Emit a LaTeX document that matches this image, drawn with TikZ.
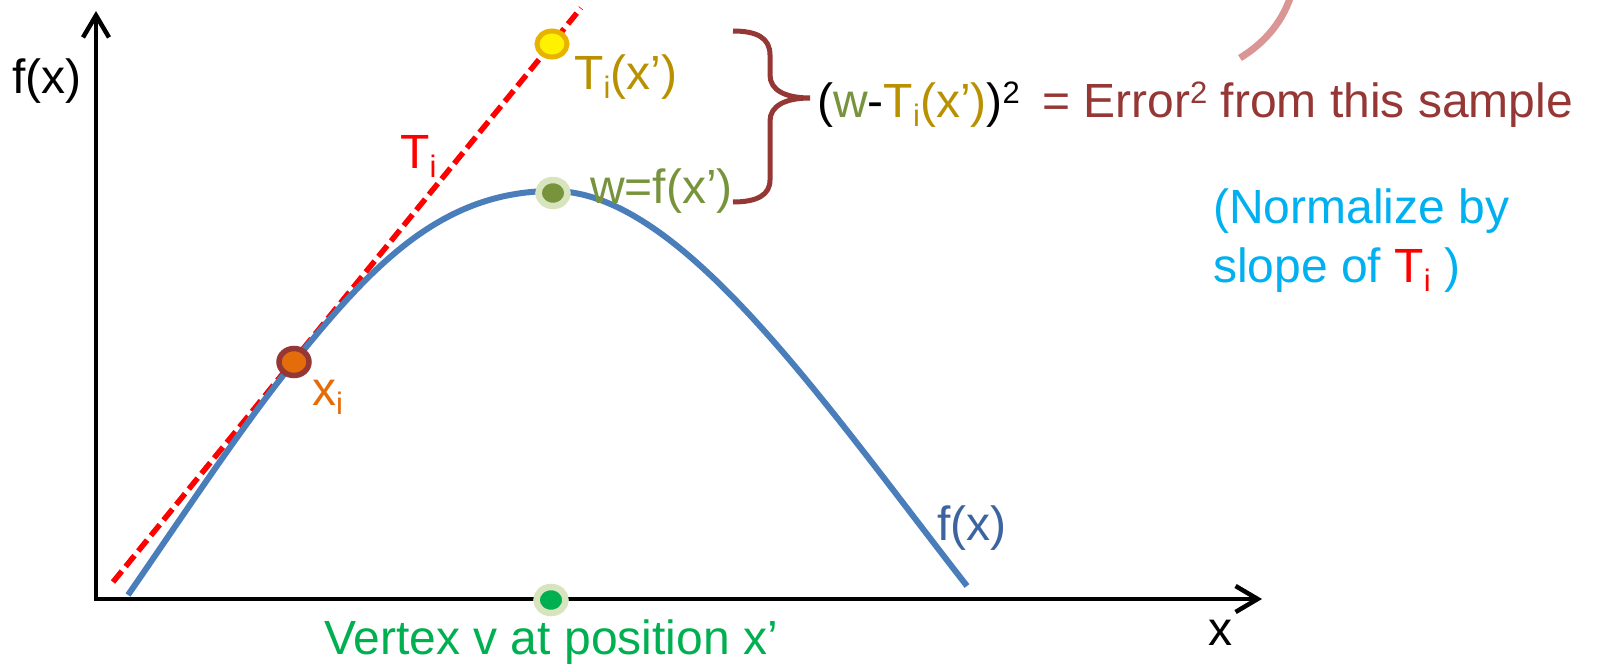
\documentclass[tikz,border=0pt]{standalone}
\usepackage{fontspec}
\setmainfont{Liberation Sans}
\usetikzlibrary{arrows.meta,shapes.geometric}
\definecolor{dred}{HTML}{953735}
\definecolor{gold}{HTML}{B89000}
\definecolor{olive}{HTML}{77933C}
\definecolor{orng}{HTML}{E46C0A}
\definecolor{vgreen}{HTML}{00B050}
\definecolor{cyanc}{HTML}{00B0F0}
\definecolor{pinkc}{HTML}{D99694}
\definecolor{fblue}{HTML}{3B64A0}
\definecolor{cblue}{HTML}{4A7EBB}
\definecolor{ygold}{HTML}{E6B400}
\definecolor{lgreen}{HTML}{D7E4BD}
\definecolor{tred}{HTML}{FF0000}
\newcommand{\mysup}[1]{\raisebox{14pt}{\fontsize{31}{31}\selectfont #1}}
\newcommand{\mysub}[1]{\raisebox{-9pt}{\fontsize{31}{31}\selectfont #1}}
\begin{document}
\begin{tikzpicture}[x=1pt,y=-1pt,
  lbl/.style={inner sep=0pt, anchor=base west, font=\fontsize{48}{57}\selectfont},
  axis/.style={line width=4.5pt, black, {Straight Barb[length=22pt,width=26pt]}-{Straight Barb[length=22pt,width=26pt]}},
  tline/.style={line width=5.5pt, tred, dash pattern=on 14pt off 6pt},
  fcurve/.style={line width=6pt, cblue},
  dot/.style={ellipse, inner sep=0pt, minimum width=29pt, minimum height=26pt},
  bracec/.style={line width=5pt, dred},
  arcc/.style={line width=7pt, pinkc}]
\useasboundingbox (0,0) rectangle (1601,666);
% axes
\coordinate (O) at (96,599);
\coordinate (Ytip) at (96,11);
\coordinate (Xtip) at (1262,599);
\draw[axis] (Ytip) -- (O) -- (Xtip);
% tangent line
\coordinate (t0) at (113,582);
\coordinate (t1) at (581,8);
\draw[tline] (t0) -- (t1);
% curve
\coordinate (c0) at (128,595);
\coordinate (cx) at (294,362);
\coordinate (cp) at (553,191);
\coordinate (c1) at (967,586);
\draw[fcurve] (c0) .. controls (178,523) and (244,423) .. (cx)
  .. controls (370,268) and (440,191) .. (cp)
  .. controls (680,191) and (822,400) .. (c1);
% dots
\node[dot, fill=yellow, draw=ygold, line width=5pt, minimum width=30pt, minimum height=26pt] (ydot) at (552,44) {};
\node[dot, fill=olive, draw=lgreen, line width=6.5pt] (wdot) at (553,193) {};
\node[dot, fill=orng, draw=dred, line width=5.5pt, minimum width=30pt, minimum height=27pt] (xdot) at (294,362) {};
\node[dot, fill=vgreen, draw=lgreen, line width=6.5pt] (vdot) at (551,600) {};
% brace
\coordinate (bt) at (733,31);
\coordinate (bb) at (733,202);
\coordinate (btip) at (810,98);
\draw[bracec] (bt) .. controls (757,31) and (770,38) .. (770,55) -- (770,75)
  .. controls (770,90) and (785,98) .. (btip)
  .. controls (785,98) and (770,106) .. (770,121) -- (770,180)
  .. controls (770,195) and (757,202) .. (bb);
% pink arc
\coordinate (a0) at (1240,58);
\coordinate (a1) at (1292,-8);
\draw[arcc] (a0) .. controls (1266,42) and (1284,20) .. (a1);
% labels
\node[lbl] (fxl) at (12,94) {f(x)};
\node[lbl] (xl) at (1208,645) {x};
\node[lbl, anchor=base, text=vgreen] (vtx) at (551,654) {Vertex v at position x’};
\node[lbl, text=tred] (Tl) at (400,168) {T\mysub{i}};
\node[lbl, text=gold] (Tx) at (574,90) {T\mysub{i}(x’)};
\node[lbl, text=olive] (wl) at (590,204) {w=f(x’)};
\node[lbl, text=orng] (xil) at (312,405) {x\mysub{i}};
\node[lbl, text=fblue] (fl) at (937,540) {f(x)};
\node[lbl] (expr) at (817,118) {(\textcolor{olive}{w}-\textcolor{gold}{T\mysub{i}(x’)})\mysup{2}};
\node[lbl, text=dred] (err) at (1042,118) {= Error\mysup{2} from this sample};
\node[lbl, text=cyanc] (n1) at (1213,223) {(Normalize by};
\node[lbl, text=cyanc] (n2) at (1213,282) {slope of \textcolor{tred}{T\mysub{i}} )};
\end{tikzpicture}
\end{document}
